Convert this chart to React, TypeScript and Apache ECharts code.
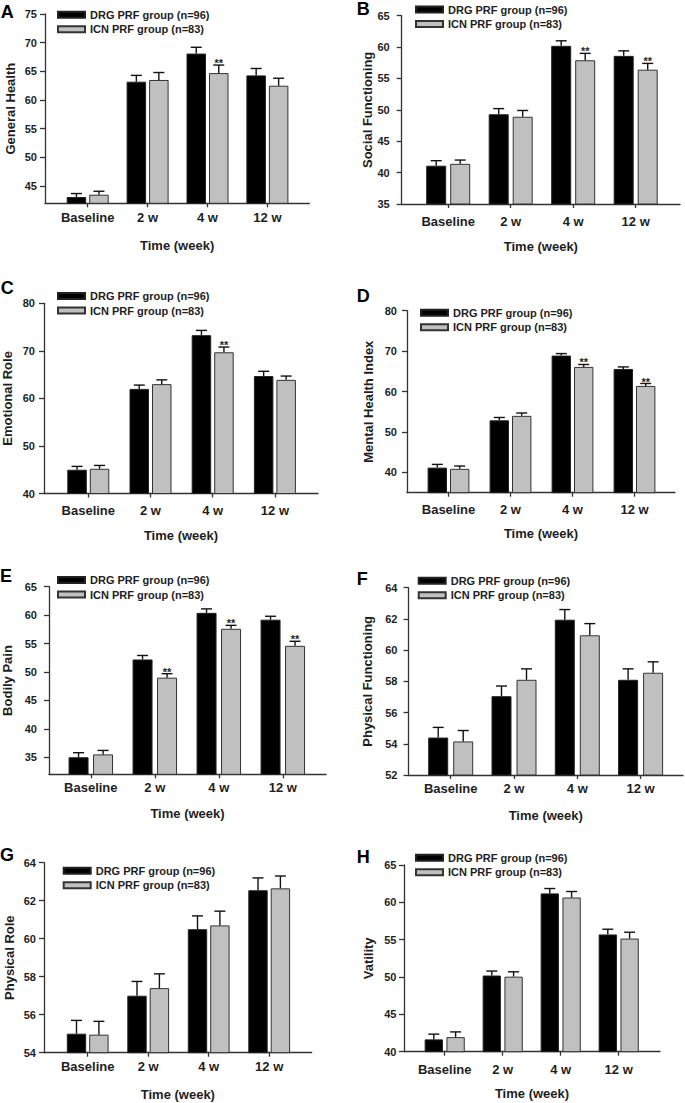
import React, { useEffect, useRef } from 'react';
import * as echarts from 'echarts';

const categories = ['Baseline', '2 w', '4 w', '12 w'];
const groupNames = ['DRG PRF group (n=96)', 'ICN PRF group (n=83)'];
const xAxisTitle = 'Time (week)';
const panelLetters = ['A', 'B', 'C', 'D', 'E', 'F', 'G', 'H'];
const yTitles = [
  'General Health', 'Social Functioning', 'Emotional Role', 'Mental Health Index',
  'Bodily Pain', 'Physical Functioning', 'Physical Role', 'Vatility',
];

// A General Health
const ghDRG = [43.1, 63.2, 68.1, 64.3];
const ghDRGErr = [0.6, 1.1, 1.1, 1.2];
const ghICN = [43.5, 63.5, 64.7, 62.5];
const ghICNErr = [0.6, 1.3, 1.4, 1.3];
const ghSig = [0, 0, 1, 0];
const ghTicks = [45, 50, 55, 60, 65, 70, 75];
const ghRange = [42, 75];

// B Social Functioning
const sfDRG = [41.1, 49.3, 60.2, 58.6];
const sfDRGErr = [0.8, 0.9, 0.8, 0.8];
const sfICN = [41.4, 48.9, 57.9, 56.4];
const sfICNErr = [0.6, 1.0, 1.1, 1.0];
const sfSig = [0, 0, 1, 1];
const sfTicks = [35, 40, 45, 50, 55, 60, 65];
const sfRange = [35, 65];

// C Emotional Role
const erDRG = [45.0, 62.0, 73.3, 64.7];
const erDRGErr = [0.7, 0.8, 1.0, 1.0];
const erICN = [45.2, 63.0, 69.7, 63.9];
const erICNErr = [0.7, 0.9, 1.1, 0.8];
const erSig = [0, 0, 1, 0];
const erTicks = [40, 50, 60, 70, 80];
const erRange = [40, 80];

// D Mental Health Index
const mhDRG = [41.2, 52.9, 68.9, 65.6];
const mhDRGErr = [0.8, 0.7, 0.5, 0.5];
const mhICN = [40.9, 54.0, 66.1, 61.4];
const mhICNErr = [0.7, 0.7, 0.6, 0.6];
const mhSig = [0, 0, 1, 1];
const mhTicks = [40, 50, 60, 70, 80];
const mhRange = [35, 80];

// E Bodily Pain
const bpDRG = [35.0, 52.2, 60.4, 59.2];
const bpDRGErr = [0.8, 0.7, 0.7, 0.6];
const bpICN = [35.5, 49.0, 57.6, 54.6];
const bpICNErr = [0.7, 0.7, 0.6, 0.8];
const bpSig = [0, 1, 1, 1];
const bpTicks = [35, 40, 45, 50, 55, 60, 65];
const bpRange = [32, 65];

// F Physical Functioning
const pfDRG = [54.4, 57.05, 61.95, 58.1];
const pfDRGErr = [0.65, 0.65, 0.65, 0.7];
const pfICN = [54.15, 58.1, 60.95, 58.55];
const pfICNErr = [0.7, 0.7, 0.75, 0.7];
const pfSig = [0, 0, 0, 0];
const pfTicks = [52, 54, 56, 58, 60, 62, 64];
const pfRange = [52, 64];

// G Physical Role
const prDRG = [55.0, 57.0, 60.5, 62.55];
const prDRGErr = [0.7, 0.75, 0.7, 0.65];
const prICN = [54.95, 57.4, 60.7, 62.65];
const prICNErr = [0.7, 0.75, 0.75, 0.65];
const prSig = [0, 0, 0, 0];
const prTicks = [54, 56, 58, 60, 62, 64];
const prRange = [54, 64];

// H Vatility
const vtDRG = [41.65, 50.2, 61.2, 55.7];
const vtDRGErr = [0.7, 0.6, 0.65, 0.7];
const vtICN = [41.95, 50.05, 60.65, 55.15];
const vtICNErr = [0.7, 0.65, 0.8, 0.85];
const vtSig = [0, 0, 0, 0];
const vtTicks = [40, 45, 50, 55, 60, 65];
const vtRange = [40, 65];

const panelData = [
  { drg: ghDRG, drgErr: ghDRGErr, icn: ghICN, icnErr: ghICNErr, sig: ghSig, ticks: ghTicks, range: ghRange },
  { drg: sfDRG, drgErr: sfDRGErr, icn: sfICN, icnErr: sfICNErr, sig: sfSig, ticks: sfTicks, range: sfRange },
  { drg: erDRG, drgErr: erDRGErr, icn: erICN, icnErr: erICNErr, sig: erSig, ticks: erTicks, range: erRange },
  { drg: mhDRG, drgErr: mhDRGErr, icn: mhICN, icnErr: mhICNErr, sig: mhSig, ticks: mhTicks, range: mhRange },
  { drg: bpDRG, drgErr: bpDRGErr, icn: bpICN, icnErr: bpICNErr, sig: bpSig, ticks: bpTicks, range: bpRange },
  { drg: pfDRG, drgErr: pfDRGErr, icn: pfICN, icnErr: pfICNErr, sig: pfSig, ticks: pfTicks, range: pfRange },
  { drg: prDRG, drgErr: prDRGErr, icn: prICN, icnErr: prICNErr, sig: prSig, ticks: prTicks, range: prRange },
  { drg: vtDRG, drgErr: vtDRGErr, icn: vtICN, icnErr: vtICNErr, sig: vtSig, ticks: vtTicks, range: vtRange },
];

// Layout (pixels): L = y-axis x, T = top of y-axis, R = end of x-axis, B = x-axis y,
// c0 = first category centre, step = category spacing
const layouts = [
  { L: 45, T: 14, R: 309.3, B: 203.3, c0: 87.7, step: 59.9, bw: 19.5, gap: 3, ylm: 8, xlm: 8, ng: 36, yng: 28.5, lx: 0.7, ly: 12.2, legL: 57, legT: 8.3 },
  { L: 401.7, T: 15.7, R: 680, B: 204, c0: 448.2, step: 62.5, bw: 20, gap: 4, ylm: 12, xlm: 11, ng: 35.5, yng: 28, lx: 356.7, ly: 9.2, legL: 415, legT: 3 },
  { L: 44, T: 303.3, R: 318, B: 493.5, c0: 88.3, step: 62.2, bw: 19.5, gap: 3, ylm: 9, xlm: 10.5, ng: 35.7, yng: 30, lx: 0.7, ly: 287.8, legL: 57, legT: 289.6 },
  { L: 407, T: 310.7, R: 675, B: 492.7, c0: 448.5, step: 62, bw: 19.4, gap: 3, ylm: 10, xlm: 10, ng: 34, yng: 32.5, lx: 356.7, ly: 295.5, legL: 420, legT: 306.2 },
  { L: 49, T: 586.7, R: 326, B: 774.3, c0: 90.8, step: 64, bw: 20, gap: 4.5, ylm: 12, xlm: 7, ng: 33, yng: 35, lx: 0, ly: 575.8, legL: 57, legT: 573.5 },
  { L: 408.5, T: 587.7, R: 683, B: 775, c0: 450.7, step: 63.3, bw: 20, gap: 5, ylm: 11, xlm: 7, ng: 33.5, yng: 34.5, lx: 356.7, ly: 579.2, legL: 417.7, legT: 574.2 },
  { L: 44, T: 862.7, R: 311.7, B: 1052.7, c0: 87.7, step: 60.5, bw: 19.4, gap: 3, ylm: 8, xlm: 7.5, ng: 34.8, yng: 28, lx: 0, ly: 855, legL: 62.7, legT: 864.2 },
  { L: 404, T: 865, R: 660, B: 1051.7, c0: 444.7, step: 58, bw: 18.3, gap: 3.5, ylm: 7.5, xlm: 11, ng: 35, yng: 29, lx: 356.7, ly: 856.7, legL: 415, legT: 851.2 },
];

const FONT = "'Liberation Sans', Arial, Helvetica, sans-serif";
const AXIS_COLOR = '#333';
const TEXT_COLOR = '#1e1e1e';

function buildOption() {
  const grid: any[] = [];
  const xAxis: any[] = [];
  const yAxis: any[] = [];
  const series: any[] = [];
  const legend: any[] = [];
  const graphic: any[] = [];

  panelData.forEach((d, k) => {
    const lo = layouts[k];
    grid.push({ left: lo.L, top: lo.T, width: lo.R - lo.L, height: lo.B - lo.T, containLabel: false });
    const xmin = -(lo.c0 - lo.L) / lo.step;
    const xmax = 3 + (lo.R - (lo.c0 + 3 * lo.step)) / lo.step;
    const catIdx = categories.map((_, i) => i);
    xAxis.push({
      type: 'value', gridIndex: k, min: xmin, max: xmax,
      axisLine: { show: true, onZero: false, lineStyle: { color: AXIS_COLOR, width: 1.3 } },
      axisTick: { show: true, length: 4, customValues: catIdx, lineStyle: { color: AXIS_COLOR, width: 1.3 } },
      axisLabel: {
        customValues: catIdx, margin: lo.xlm,
        formatter: (v: number) => categories[Math.round(v)] ?? '',
        fontFamily: FONT, fontSize: 13, fontWeight: 'bold', color: TEXT_COLOR,
      },
      splitLine: { show: false },
      name: xAxisTitle, nameLocation: 'middle', nameGap: lo.ng,
      nameTextStyle: { fontFamily: FONT, fontSize: 13, fontWeight: 'bold', color: TEXT_COLOR },
    });
    yAxis.push({
      type: 'value', gridIndex: k, min: d.range[0], max: d.range[1],
      axisLine: { show: true, onZero: false, lineStyle: { color: AXIS_COLOR, width: 1.3 } },
      axisTick: { show: true, length: 5, customValues: d.ticks, lineStyle: { color: AXIS_COLOR, width: 1.3 } },
      axisLabel: {
        customValues: d.ticks, margin: lo.ylm,
        fontFamily: FONT, fontSize: 11, fontWeight: 'bold', color: TEXT_COLOR,
      },
      splitLine: { show: false },
      name: yTitles[k], nameLocation: 'middle', nameGap: lo.yng,
      nameTextStyle: { fontFamily: FONT, fontSize: 13, fontWeight: 'bold', color: TEXT_COLOR },
    });

    const barGap = `${(lo.gap / lo.bw) * 100}%`;
    series.push({
      type: 'bar', name: groupNames[0], xAxisIndex: k, yAxisIndex: k,
      data: d.drg.map((v, i) => [i, v]), barWidth: lo.bw, barGap,
      itemStyle: { color: '#000', borderColor: '#222', borderWidth: 1 }, z: 2,
    });
    series.push({
      type: 'bar', name: groupNames[1], xAxisIndex: k, yAxisIndex: k,
      data: d.icn.map((v, i) => [i, v]), barWidth: lo.bw, barGap,
      itemStyle: { color: '#c0c0c0', borderColor: '#333', borderWidth: 1 }, z: 2,
    });

    const groups = [
      { vals: d.drg, errs: d.drgErr, sig: d.drg.map(() => 0), dx: -(lo.bw + lo.gap) / 2 },
      { vals: d.icn, errs: d.icnErr, sig: d.sig, dx: (lo.bw + lo.gap) / 2 },
    ];
    groups.forEach((g, gi) => {
      series.push({
        type: 'custom', name: `err-${k}-${gi}`, xAxisIndex: k, yAxisIndex: k, z: 5, silent: true,
        encode: { x: 0, y: 1 },
        data: g.vals.map((v, i) => [i, v, g.errs[i], g.sig[i]]),
        renderItem: (params: any, api: any) => {
          const base = api.coord([api.value(0), api.value(1)]);
          const top = api.coord([api.value(0), api.value(1) + api.value(2)]);
          const x = base[0] + g.dx;
          const cap = 5.5;
          const children: any[] = [
            { type: 'line', shape: { x1: x, y1: base[1], x2: x, y2: top[1] }, style: { stroke: '#111', lineWidth: 1.4 } },
            { type: 'line', shape: { x1: x - cap, y1: top[1], x2: x + cap, y2: top[1] }, style: { stroke: '#111', lineWidth: 1.4 } },
          ];
          if (api.value(3)) {
            children.push({
              type: 'text',
              style: { text: '**', x, y: top[1] - 2, fill: TEXT_COLOR, font: `bold 11px ${FONT}`, align: 'center', verticalAlign: 'middle' },
            });
          }
          return { type: 'group', children };
        },
      });
    });

    legend.push({
      left: lo.legL, top: lo.legT, orient: 'vertical', padding: 0, itemGap: 1.5,
      itemWidth: 27, itemHeight: 6, icon: 'rect', selectedMode: false,
      data: groupNames,
      textStyle: { fontFamily: FONT, fontSize: 11, fontWeight: 'bold', color: TEXT_COLOR, lineHeight: 13 },
    });

    graphic.push({
      type: 'text', left: lo.lx, top: lo.ly - 9,
      style: { text: panelLetters[k], font: `bold 18px ${FONT}`, fill: '#000' },
    });
  });

  return { animation: false, backgroundColor: '#fff', grid, xAxis, yAxis, series, legend, graphic };
}

export default function App() {
  const ref = useRef<HTMLDivElement>(null);
  useEffect(() => {
    if (!ref.current) return;
    const chart = echarts.init(ref.current, undefined, { renderer: 'svg' });
    chart.setOption(buildOption());
    return () => chart.dispose();
  }, []);
  return (
    <div
      ref={ref}
      style={{ position: 'absolute', left: 0, top: 0, width: 685, height: 1103, background: '#fff' }}
    />
  );
}
